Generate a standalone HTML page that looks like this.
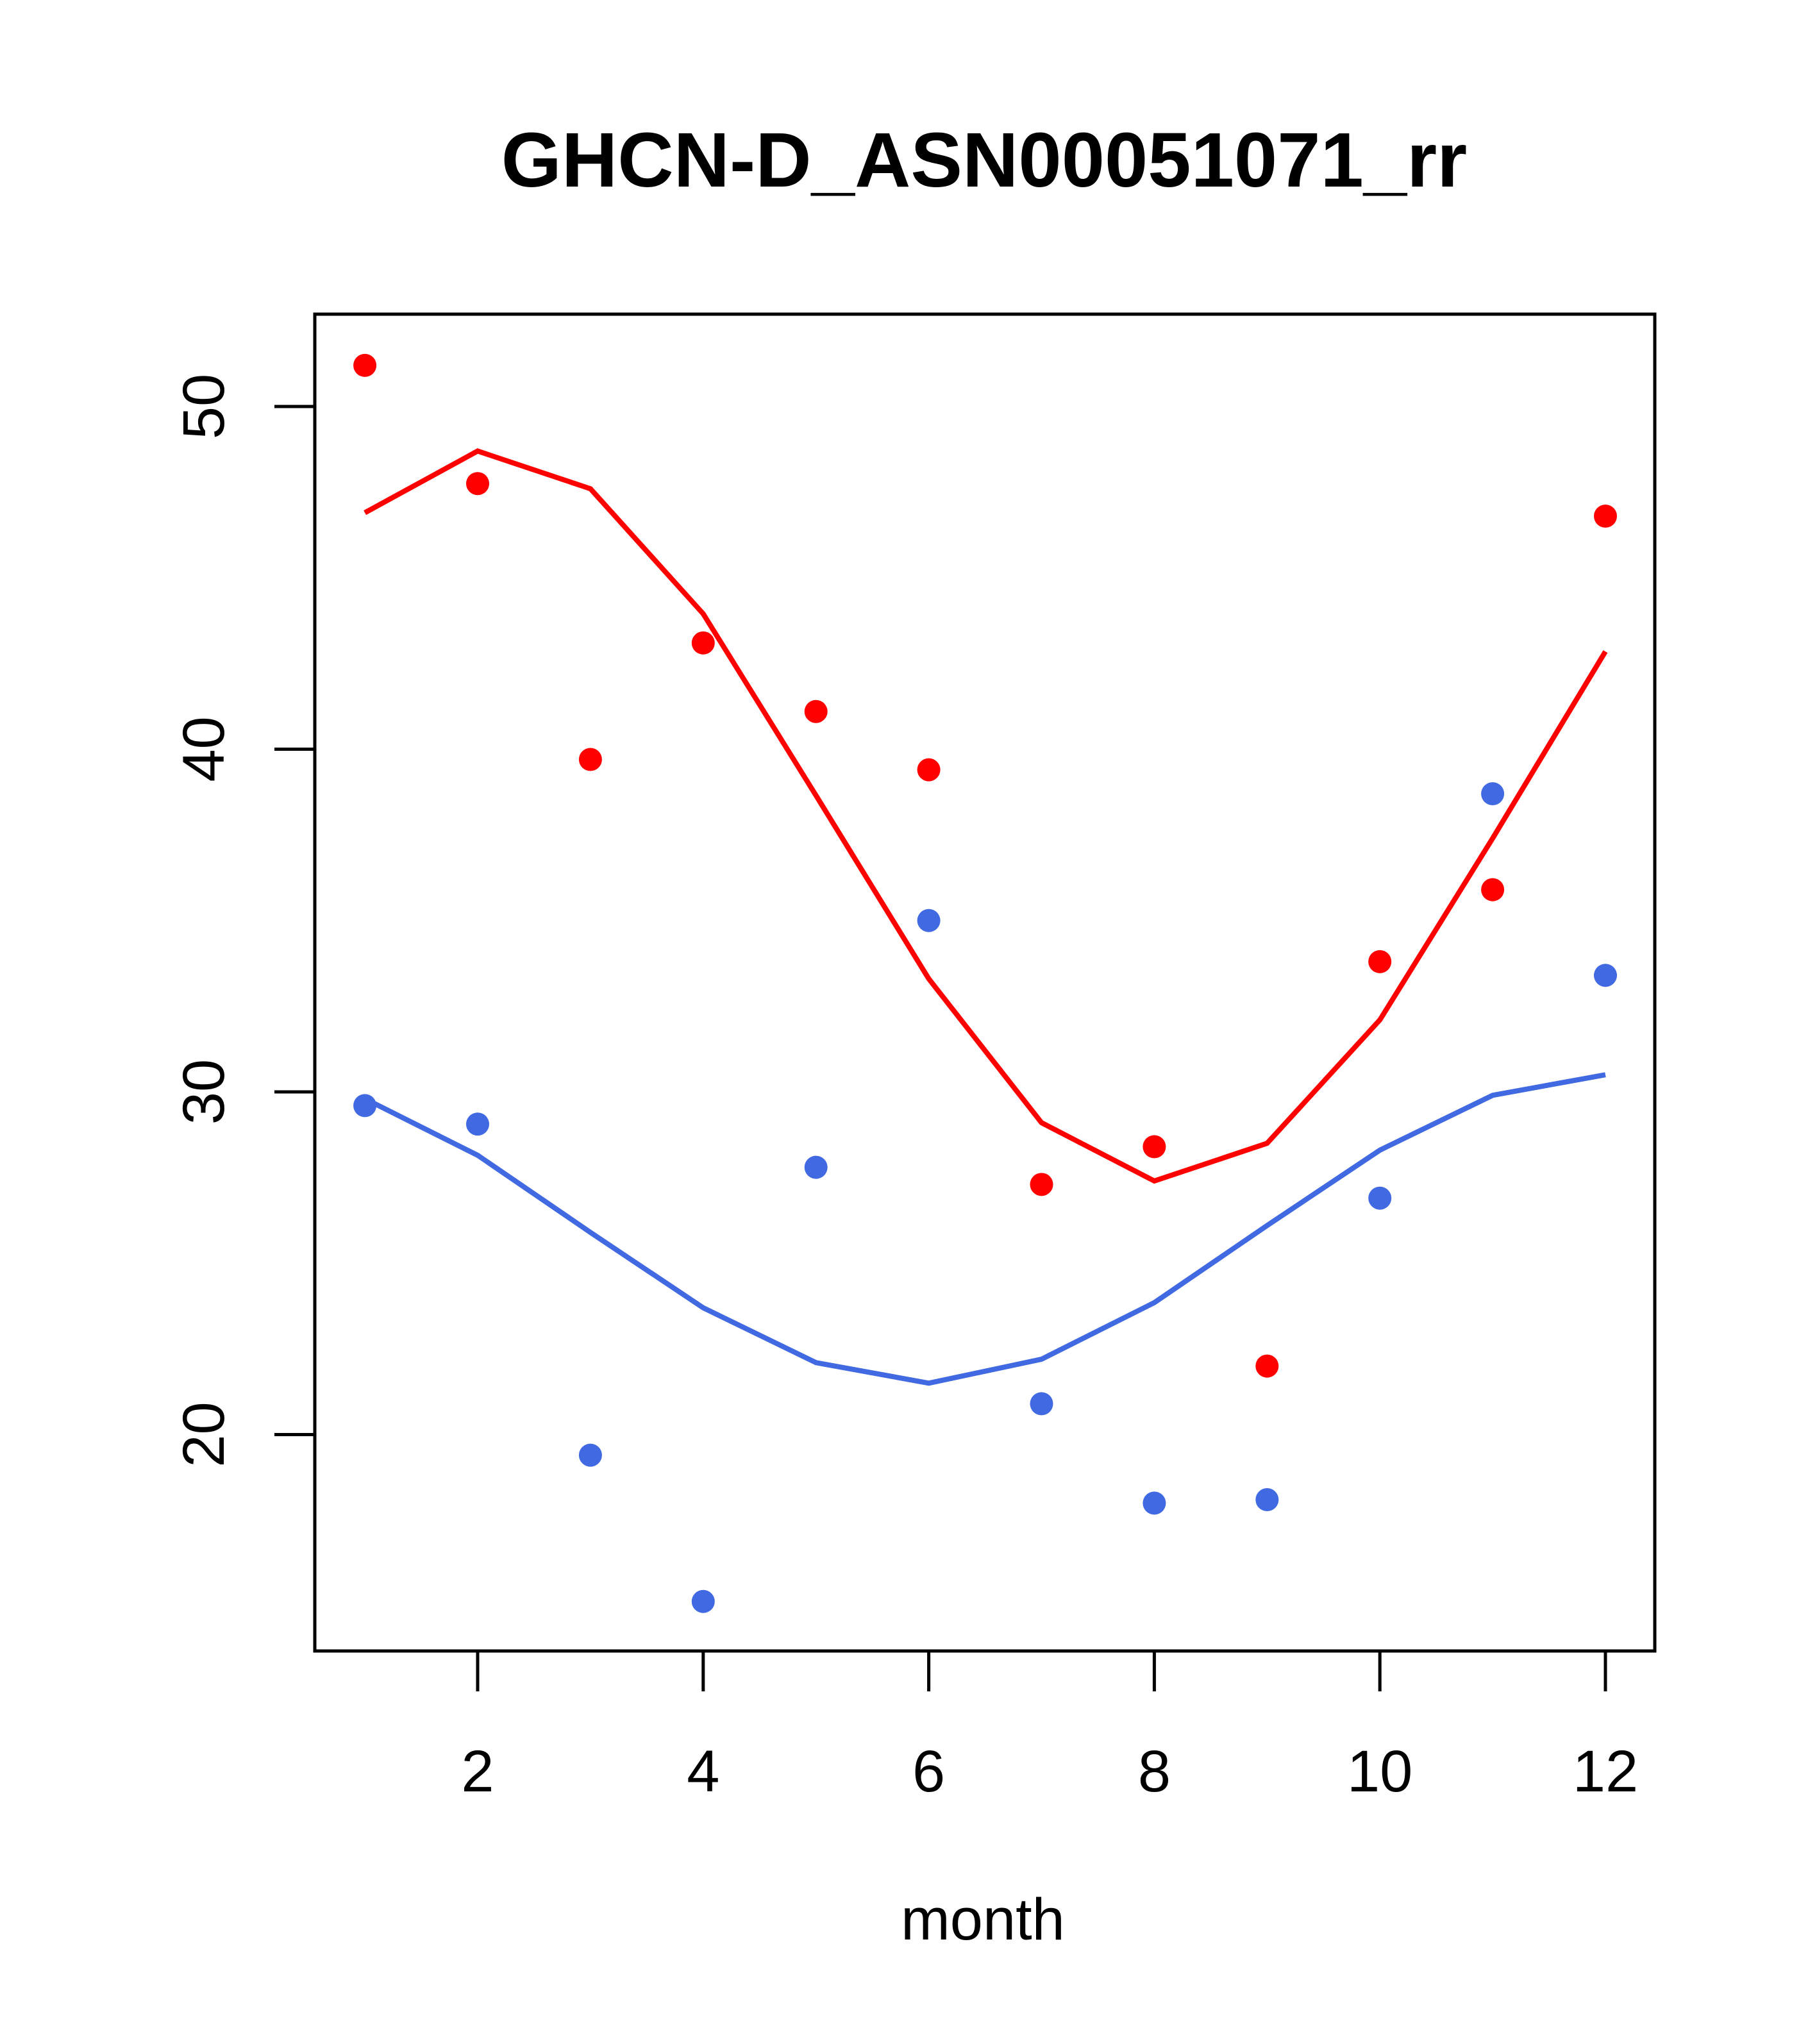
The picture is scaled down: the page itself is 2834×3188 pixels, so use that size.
<!DOCTYPE html>
<html><head><meta charset="utf-8"><style>body{margin:0;background:#fff}svg{display:block}</style></head>
<body>
<svg id="chart" width="2834" height="3188" xmlns="http://www.w3.org/2000/svg" font-family="Liberation Sans, sans-serif">
<rect width="2834" height="3188" fill="#fff"/>
<text x="1535" y="291" font-size="121" font-weight="bold" text-anchor="middle">GHCN-D_ASN00051071_rr</text>
<rect x="491" y="490" width="2090" height="2085" fill="none" stroke="#000" stroke-width="5"/>
<text x="1533" y="3025" font-size="92" text-anchor="middle">month</text>
<g id="axes"></g>
<g id="marks"></g>
</svg>
<script>
const months = [1,2,3,4,5,6,7,8,9,10,11,12];
const redPoints = [51.2,47.75,39.7,43.1,41.1,39.4,27.3,28.4,22.0,33.8,35.9,46.8];
const redLine = [46.9,48.7,47.6,43.95,38.65,33.3,29.1,27.4,28.5,32.1,37.4,42.85];
const bluePoints = [29.6,29.06,19.4,15.13,27.8,35.0,20.9,18.0,18.1,26.9,38.7,33.4];
const blueLine = [29.8,28.15,25.9,23.7,22.1,21.5,22.2,23.85,26.1,28.3,29.9,30.5];
const xTicks = [2,4,6,8,10,12];
const yTicks = [20,30,40,50];

const NS = 'http://www.w3.org/2000/svg';
function xs(m){ return 745 + (m-2)*175.9; }
function ys(v){ return 634 + (50-v)*53.45; }
function mk(tag, attrs, parent){ const e=document.createElementNS(NS,tag); for(const k in attrs) e.setAttribute(k,attrs[k]); parent.appendChild(e); return e; }
const axes=document.getElementById('axes'), marks=document.getElementById('marks');

xTicks.forEach(t=>{
  const l=mk('line',{x1:xs(t),x2:xs(t),y1:2575,y2:2638,stroke:'#000','stroke-width':5},axes);
  
  
  const tx=mk('text',{x:xs(t),y:2794,'font-size':92,'text-anchor':'middle'},axes);
  tx.textContent=t;
  
  
});
yTicks.forEach(t=>{
  const l=mk('line',{x1:428,x2:491,y1:ys(t),y2:ys(t),stroke:'#000','stroke-width':5},axes);
  
  
  const tx=mk('text',{x:0,y:0,'font-size':92,'text-anchor':'middle',transform:`translate(349,${ys(t)}) rotate(-90)`},axes);
  tx.textContent=t;
  
  
});

function line(vals,color,name){
  const p=mk('polyline',{points:months.map((m,i)=>xs(m)+','+ys(vals[i])).join(' '),fill:'none',stroke:color,'stroke-width':8},marks);
  
  
}
function pts(vals,color,name){
  months.forEach((m,i)=>{
    const c=mk('circle',{cx:xs(m),cy:ys(vals[i]),r:18,fill:color},marks);
    
    
  });
}
line(redLine,'#ff0000','red-line');
line(blueLine,'#4169e1','blue-line');
pts(redPoints,'#ff0000','red-point');
pts(bluePoints,'#4169e1','blue-point');
</script>
</body></html>
